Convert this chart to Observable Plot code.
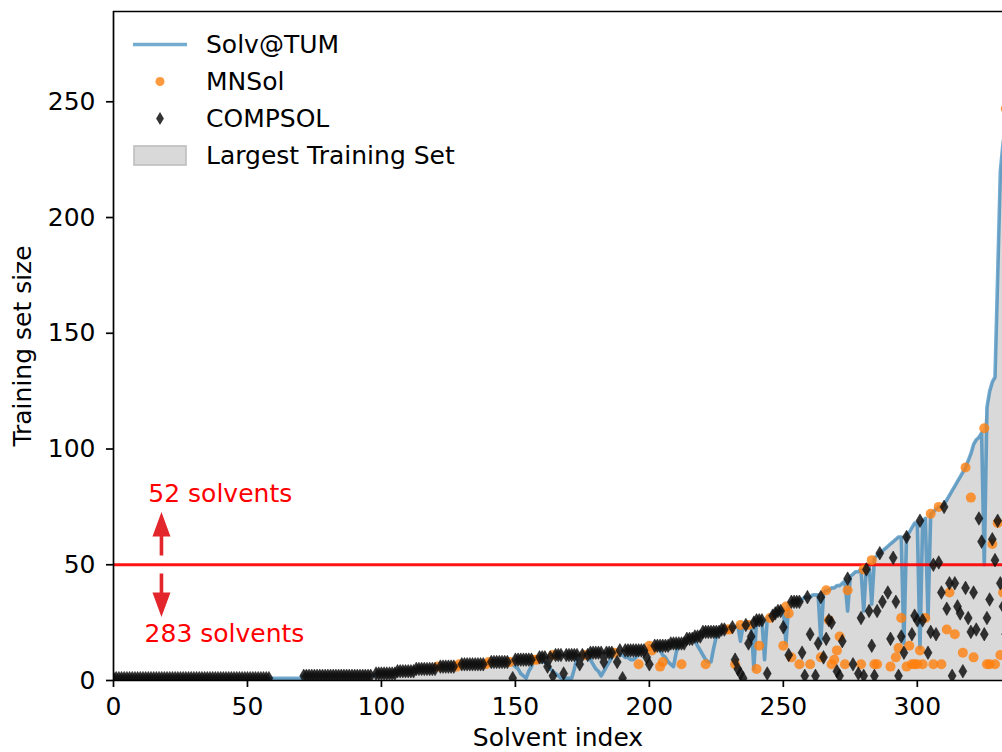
<!DOCTYPE html>
<html><head><meta charset="utf-8">
<script src="https://cdn.jsdelivr.net/npm/d3@7"></script>
<script src="https://cdn.jsdelivr.net/npm/@observablehq/plot@0.6"></script>
<style>
html,body{margin:0;padding:0;background:#fff;overflow:hidden;}
#wrap{position:relative;width:1002px;height:752px;overflow:hidden;font-family:"DejaVu Sans",sans-serif;}
#legend{position:absolute;left:130px;top:25.5px;font-size:25px;color:#000;}
#legend .row{display:flex;align-items:center;height:37px;}
#legend .row svg{width:60px;height:37px;display:block;}
#legend .row span{margin-left:16px;line-height:37px;}
</style></head><body><div id="wrap"></div>
<script>
// ---- data (index = solvent index, sorted by largest training set) ----
const largest = [
1,1,1,1,1,1,1,1,1,1, 1,1,1,1,1,1,1,1,1,1, 1,1,1,1,1,1,1,1,1,1, 1,1,1,1,1,1,1,1,1,1,
1,1,1,1,1,1,1,1,1,1, 1,1,1,1,1,1,1,1,1,1, 1,1,1,1,1,1,1,1,1,1, 1,2,2,2,2,2,2,2,2,2,
2,2,2,2,2,2,2,2,2,2, 2,2,2,2,2,2,2,3,3,3, 3,3,3,3,3,3,4,4,4,4, 4,4,4,5,5,5,5,5,5,5,
5,6,6,6,6,6,6,6,6,7, 7,7,7,7,7,7,7,7,7,7, 8,8,8,8,8,8,8,8,8,9, 9,9,9,9,9,9,9,9,9,10,
10,10,10,10,11,11,11,11,11,11, 11,11,11,11,11,11,11,11,12,12, 12,12,12,12,12,12,12,12,13,13, 13,13,13,13,13,13,13,13,13,13,
15,15,15,15,15,15,15,15,16,16, 16,16,16,16,18,18,18,19,19,19, 21,21,21,21,21,21,21,22,22,22, 22,23,23,24,24,24,24,25,25,25,
26,26,26,27,27,28,28,29,30,31, 31,32,33,34,34,34,35,35,36,36, 36,37,37,37,38,38,39,39,40,40, 41,41,42,43,44,45,46,47,47,48,
48,49,50,52,53,54,55,56,57,58, 59,60,61,62,62,63,63,64,66,68, 68,69,69,70,71,72,73,74,75,75, 76,78,80,82,84,86,88,90,92,95,
98,102,104,105,107,109,118,125,129,131, 175,220,232,247,265
];
const solvTUM = [
1,1,1,1,1,1,1,1,1,1, 1,1,1,1,1,1,1,1,1,1, 1,1,1,1,1,1,1,1,1,1, 1,1,1,1,1,1,1,1,1,1,
1,1,1,1,1,1,1,1,1,1, 1,1,1,1,1,1,1,1,1,1, 1,1,1,1,1,1,1,1,1,1, 1,2,2,2,2,2,2,2,2,2,
2,2,2,2,2,2,2,2,2,2, 2,2,2,2,2,2,2,2,3,3, 3,3,3,3,3,3,3,4,4,4, 4,4,4,5,5,5,5,5,5,5,
5,6,6,6,6,6,6,6,6,7, 7,7,7,7,7,7,7,7,7,7, 8,8,8,8,8,8,8,8,8,7, 6,5,3,2,1,4,6,9,8,8,
8,8,7,5,4,3,2,1,1,1, 1,1,5,10,11,11,11,11,9,7, 5,4,2,4,6,8,10,12,12,11, 11,10,10,9,9,10,12,13,13,13,
15,15,15,15,13,11,10,8,7,6, 12,16,16,16,18,18,18,17,15,13, 11,9,8,8,14,19,21,22,22,22, 22,23,23,24,17,24,24,25,25,5,
26,26,26,9,27,28,28,29,30,31, 31,16,33,34,34,34,35,35,36,36, 36,37,37,37,17,38,39,39,40,40, 41,41,42,43,30,45,46,47,47,48,
30,49,50,33,53,54,55,56,57,58, 59,60,61,62,62,16,63,64,66,68, 68,14,69,70,27,72,73,74,75,75, 76,78,80,82,84,86,88,90,92,95,
98,102,104,105,107,50,118,125,129,131, 175,220,232,240,265
];
const _ = null;
const mnsol = [
_,_,_,_,_,_,_,_,_,_, _,_,_,_,_,_,_,_,_,_, _,_,_,_,_,_,_,_,_,_, _,_,_,_,_,_,_,_,_,_,
_,_,_,_,_,_,_,_,_,_, _,_,_,_,_,_,_,_,_,_, _,_,_,_,_,_,_,_,_,_, _,_,_,_,_,_,_,_,_,_,
_,_,_,_,_,_,_,_,_,_, _,_,_,_,_,_,_,_,_,_, _,_,_,_,_,_,_,_,_,_, _,_,_,_,_,_,_,_,_,_,
_,6,_,_,_,_,_,_,6,7, _,_,_,_,_,_,_,_,_,7, 8,_,_,_,_,_,_,_,8,_, _,_,_,_,_,_,_,9,9,_,
_,_,_,_,11,_,_,_,_,_, _,_,_,_,_,_,11,_,_,_, _,_,_,_,_,_,_,12,_,_, _,_,_,_,_,_,7,_,_,_,
15,13,_,_,6,8,_,_,_,_, _,_,7,_,_,_,_,_,_,_, _,7,_,_,_,_,_,_,_,22, 22,_,7,_,24,_,_,24,_,_,
5,15,_,_,_,27,_,_,_,_, 15,32,29,10,_,_,7,_,_,_, 7,_,_,_,10,_,39,26,7,9, 13,19,_,7,39,_,_,_,_,7,
48,_,_,52,7,7,_,_,_,_, 6,_,10,14,27,_,6,15,7,7, 7,13,7,27,_,72,7,_,75,7, _,22,38,_,20,_,_,12,92,_,
79,10,_,_,_,109,7,7,59,7, 68,11,38,247,_
];
const compsol = [
1,1,1,1,1,1,1,1,1,1, 1,1,1,1,1,1,1,1,1,1, 1,1,1,1,1,1,1,1,1,1, 1,1,1,1,1,1,1,1,1,1,
1,1,1,1,1,1,1,1,1,1, 1,1,1,1,1,1,1,1,1,_, _,_,_,_,_,_,_,_,_,_, _,2,2,2,2,2,2,2,2,2,
2,2,2,2,2,2,2,2,2,2, 2,2,2,2,2,2,2,_,3,3, 3,3,3,3,3,3,4,4,4,4, 4,4,4,5,5,5,5,5,5,5,
5,_,6,6,6,6,6,6,_,_, 7,7,7,7,7,7,7,7,7,_, _,8,8,8,8,8,8,8,_,1, 9,9,9,9,9,9,9,_,_,10,
10,10,6,10,2,11,11,11,3,11, 11,11,11,11,7,11,_,11,12,12, 12,12,12,8,12,12,12,_,8,13, 1,13,13,13,13,13,13,13,13,10,
7,_,15,15,15,15,15,15,16,16, 16,16,16,16,18,18,18,19,19,19, 21,21,21,21,21,21,21,22,22,_, _,23,9,5,3,1,24,16,19,25,
26,26,26,_,3,_,28,29,30,30, 23,_,11,34,34,34,34,12,2,36, 20,_,2,16,36,10,18,26,25,_, 4,2,17,_,44,_,7,_,3,27,
2,48,30,15,2,30,55,34,_,38, 18,53,34,2,19,12,62,_,20,28, 26,69,26,_,12,21,50,20,51,38, 75,31,42,2,42,32,29,4,40,27,
21,38,22,70,60,20,27,35,61,52, 69,42,32,20,_
];
const xTicks = [0, 50, 100, 150, 200, 250, 300];
const yTicks = [0, 50, 100, 150, 200, 250];
const threshold = [50];
const xDomain = [0, 331.8];
const yDomain = [0, 289.0];
const notes = [
  {label: "52 solvents", x: 13.0, y: 80.4},
  {label: "283 solvents", x: 11.6, y: 20.3}
];
const arrows = [
  {x: 17.9, tip: 72.8, dir: "up"},
  {x: 17.9, tip: 27.4, dir: "down"}
];
const series = [
  {name: "Solv@TUM", kind: "line"},
  {name: "MNSol", kind: "dot"},
  {name: "COMPSOL", kind: "diamond"},
  {name: "Largest Training Set", kind: "area"}
];

// ---- build ----
const rows = largest.map((v, i) => ({i, largest: v, solv: solvTUM[i], mnsol: mnsol[i], compsol: compsol[i]}));
const mRows = rows.filter(d => d.mnsol != null);
const cRows = rows.filter(d => d.compsol != null);

const diamond = {draw(ctx) { ctx.moveTo(0, -6.8); ctx.lineTo(4, 0); ctx.lineTo(0, 6.8); ctx.lineTo(-4, 0); ctx.closePath(); }};
const arrowShape = {draw(ctx) {
  ctx.moveTo(0, 0); ctx.lineTo(9, 24.5); ctx.lineTo(1.8, 24.5); ctx.lineTo(1.8, 43.5);
  ctx.lineTo(-1.8, 43.5); ctx.lineTo(-1.8, 24.5); ctx.lineTo(-9, 24.5); ctx.closePath();
}};

const FS = 25;
const chart = Plot.plot({
  width: 1002, height: 752,
  marginTop: 11, marginBottom: 72, marginLeft: 113, marginRight: 0,
  style: {fontFamily: "DejaVu Sans, sans-serif", fontSize: FS + "px", background: "white", color: "black"},
  x: {domain: xDomain},
  y: {domain: yDomain},
  marks: [
    Plot.areaY(rows, {x: "i", y: "largest", fill: "#d9d9d9", clip: true}),
    Plot.lineY(rows, {x: "i", y: "solv", stroke: "#1f77b4", strokeOpacity: 0.62, strokeWidth: 3.6, clip: true}),
    Plot.ruleY(threshold, {stroke: "#ff0000", strokeOpacity: 0.92, strokeWidth: 3.2}),
    Plot.dot(mRows, {x: "i", y: "mnsol", r: 5, fill: "#ff7f0e", fillOpacity: 0.8, stroke: null, clip: true}),
    Plot.dot(cRows, {x: "i", y: "compsol", symbol: diamond, fill: "#111", fillOpacity: 0.85, stroke: "#111", strokeOpacity: 0.85, strokeWidth: 0.6, clip: true}),
    Plot.text(notes, {x: "x", y: "y", text: "label", fill: "#ff0000", fontSize: FS, textAnchor: "start", lineAnchor: "middle"}),
    Plot.dot(arrows, {x: "x", y: "tip", symbol: arrowShape, rotate: d => d.dir === "up" ? 0 : 180, fill: "#e3262b", stroke: null}),
    Plot.ruleX([xDomain[0]], {stroke: "black", strokeWidth: 1.7}),
    Plot.ruleY([yDomain[0]], {stroke: "black", strokeWidth: 1.7}),
    Plot.ruleY([yDomain[1]], {stroke: "black", strokeWidth: 1.7}),
    Plot.axisX({ticks: xTicks, tickSize: 7, tickPadding: 10, strokeWidth: 1.7, label: null, fontSize: FS}),
    Plot.axisY({ticks: yTicks, tickSize: 7, tickPadding: 11, strokeWidth: 1.7, label: null, fontSize: FS}),
    Plot.text(["Solvent index"], {frameAnchor: "bottom", textAnchor: "middle", dy: 48, lineAnchor: "top", fontSize: FS}),
    Plot.text(["Training set size"], {frameAnchor: "left", textAnchor: "middle", dx: -91, rotate: -90, lineAnchor: "middle", fontSize: FS})
  ]
});
const wrap = document.getElementById("wrap");
wrap.appendChild(chart);

// legend overlay
const legend = document.createElement("div");
legend.id = "legend";
const swatch = {
  line: '<line x1="3" x2="57" y1="18.5" y2="18.5" stroke="#1f77b4" stroke-opacity="0.62" stroke-width="3.6"/>',
  dot: '<circle cx="30" cy="18.5" r="4.5" fill="#ff7f0e" fill-opacity="0.8"/>',
  diamond: '<path d="M30,12 L33.9,18.5 L30,25 L26.1,18.5 Z" fill="#111" fill-opacity="0.85"/>',
  area: '<rect x="4" y="9" width="52" height="19" fill="#d9d9d9" stroke="#bdbdbd" stroke-width="1.6"/>'
};
for (const s of series) {
  const row = document.createElement("div");
  row.className = "row";
  row.innerHTML = '<svg viewBox="0 0 60 37">' + swatch[s.kind] + '</svg><span></span>';
  row.querySelector("span").textContent = s.name;
  legend.appendChild(row);
}
wrap.appendChild(legend);
</script>
</body></html>
